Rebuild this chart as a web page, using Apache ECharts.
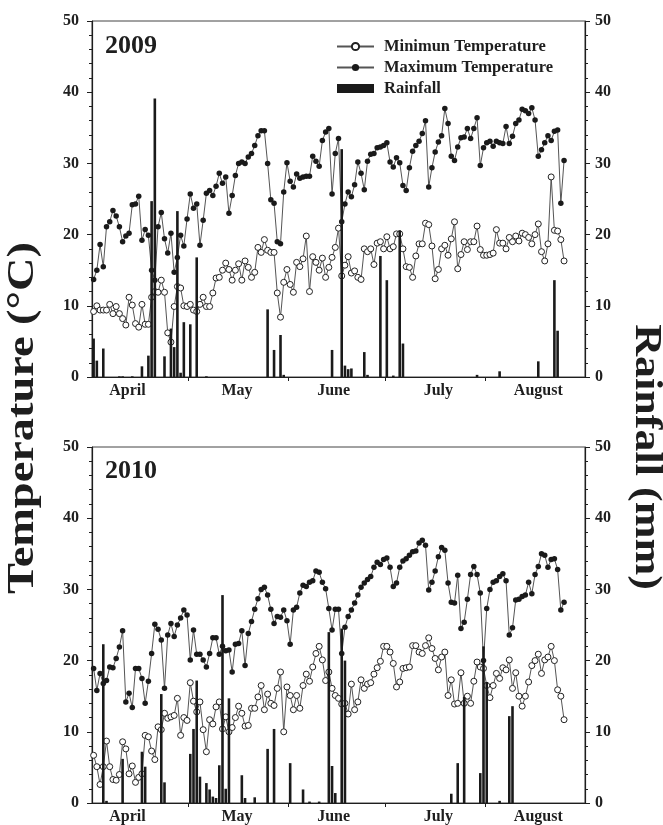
<!DOCTYPE html>
<html><head><meta charset="utf-8">
<script src="https://cdn.jsdelivr.net/npm/echarts@6/dist/echarts.min.js"></script>
<style>html,body{margin:0;padding:0;background:#fff}#c{width:663px;height:825px}</style>
</head><body><div id="c"></div>
<script>
// ---- axis labels ----
const monthNames = ['April', 'May', 'June', 'July', 'August'];
const monthLabelDays = [11, 45, 75, 107.5, 138.5];
const monthStartDays = [30, 61, 91, 122];

// ---- 2009 (day 0 = 1 April) ----
const min2009 = [9.2,10.0,9.4,9.4,9.4,10.2,8.9,9.9,8.9,8.2,
7.3,11.2,10.1,7.5,7.0,10.2,7.4,7.4,11.2,12.0,
11.9,13.6,11.9,6.2,4.9,9.9,12.7,12.5,10.0,9.9,
10.2,9.4,9.2,10.2,11.2,9.9,9.9,11.8,13.9,14.0,
15.0,16.0,15.1,13.6,15.0,15.9,13.6,16.3,15.4,14.0,
14.7,18.2,17.5,19.3,17.8,17.5,17.5,
11.8,8.4,13.3,15.1,13.0,11.9,16.1,15.5,16.6,19.8,
12.0,16.9,16.1,15.0,16.7,14.0,15.4,16.8,18.2,20.9,
14.2,15.7,16.9,14.6,14.9,14.0,13.7,18.0,17.6,18.0,
15.8,18.8,19.0,18.0,19.7,18.0,
18.3,20.1,20.1,18.0,15.5,15.4,14.0,17.0,18.7,18.7,
21.6,21.4,18.4,13.8,15.1,18.0,18.5,17.1,19.4,21.8,
15.2,17.2,19.0,17.9,19.0,19.0,
21.2,17.9,17.1,17.1,17.2,17.4,20.7,18.8,18.8,18.0,
19.6,19.0,19.8,19.1,20.2,20.0,19.6,18.7,20.0,
21.5,17.6,16.3,18.7,28.1,20.6,20.5,19.3,16.3];

const max2009 = [13.7,15.0,18.6,15.5,21.1,21.8,23.4,22.6,21.1,19.0,
19.8,20.2,24.2,24.3,25.4,19.2,20.7,19.9,15.0,13.6,
21.1,23.1,19.4,17.4,20.2,14.7,16.8,19.9,18.4,22.2,
25.7,23.7,24.3,18.5,22.0,25.8,26.2,25.5,26.8,28.6,
27.2,28.1,23.0,25.5,28.3,30.0,30.2,30.0,30.9,31.4,
32.5,33.9,34.6,34.6,30.0,24.9,24.4,19.0,18.7,26.0,
30.1,27.5,26.7,28.5,27.9,28.1,28.2,28.2,31.0,30.3,
29.6,33.2,34.4,34.9,25.7,31.4,33.5,21.8,24.3,26.0,
25.3,27.0,30.2,28.6,26.3,30.3,31.3,31.4,32.2,32.3,
32.5,32.9,30.2,29.5,30.8,30.1,26.9,26.2,29.4,
31.7,32.5,33.1,34.2,36.0,26.7,29.4,31.6,33.0,33.9,
37.7,35.6,31.0,30.4,32.3,33.6,33.7,34.9,33.5,34.9,
36.4,29.7,32.2,32.9,33.1,32.4,33.1,32.9,32.8,
35.2,32.8,33.8,35.6,36.1,37.6,37.4,37.0,37.8,
36.1,31.0,31.9,32.9,33.9,33.2,34.5,34.7,24.4,30.4];

const rainDays2009 = [0,1,3,8,9,12,15,17,18,19,22,24,25,26,27,28,30,32,35,54,56,58,59,74,77,78,79,80,84,85,89,91,93,95,96,119,126,138,143,144];
const rain2009 = [5.4,2.3,4.0,0.1,0.1,0.1,1.5,3.0,24.7,39.1,2.9,6.8,4.2,23.3,0.6,7.7,7.4,16.8,0.1,9.5,3.8,5.9,0.3,3.8,32.0,1.6,1.1,1.2,3.5,0.3,17.0,13.6,0.2,20.6,4.7,0.3,0.8,2.2,13.6,6.5];

// ---- 2010 ----
const min2010 = [6.7,5.1,2.6,5.1,8.7,5.1,3.3,3.2,4.0,8.6,
7.6,4.1,5.2,2.9,3.6,4.1,9.5,9.3,7.3,6.1,
10.7,10.3,12.6,11.9,12.1,12.3,14.7,9.5,12.0,
11.6,16.9,14.3,12.8,14.2,10.3,7.2,11.7,11.1,13.5,
14.2,10.4,12.1,10.0,10.6,12.0,13.6,12.6,10.8,
10.9,13.3,13.3,14.9,16.5,13.1,15.3,14.0,13.7,16.1,
18.4,10.0,16.3,15.1,13.1,15.1,13.3,16.5,18.1,
17.1,19.1,21.0,22.0,20.1,17.2,18.4,16.1,15.1,14.7,
13.9,14.0,12.5,16.7,13.1,14.2,17.3,16.1,16.7,16.9,
18.1,19.0,19.9,22.0,22.0,21.2,19.6,16.3,17.0,
18.9,19.0,19.1,22.1,22.1,21.2,21.0,22.1,23.2,21.7,
20.3,18.7,20.5,21.2,15.1,17.3,13.9,14.0,18.3,
14.0,15.0,14.0,17.1,19.8,19.1,18.9,16.5,14.8,16.5,
18.2,17.5,19.0,18.7,20.1,16.1,18.3,15.0,13.6,15.0,
17.0,19.3,20.0,20.9,18.2,20.1,20.5,22.0,20.0,
15.9,15.0,11.7];

const max2010 = [18.9,15.8,18.2,16.8,17.2,19.1,19.0,20.3,21.9,24.2,
14.2,15.4,13.4,18.9,18.9,17.5,14.0,17.1,21.0,25.1,
24.4,22.9,16.1,23.6,25.2,23.4,25.0,26.0,27.1,
26.4,20.1,24.3,20.9,20.9,20.1,19.1,21.0,23.2,23.2,
20.9,22.0,21.4,21.5,18.4,22.3,22.4,24.2,19.3,23.8,
25.5,27.2,28.7,30.0,30.3,29.2,27.2,25.2,26.2,26.1,
27.1,25.6,22.3,27.1,27.5,29.5,30.6,30.4,31.0,
31.2,32.6,32.4,31.0,30.1,27.3,24.3,27.2,27.2,21.0,
24.7,26.2,27.1,28.1,29.2,30.3,30.9,31.4,31.8,33.1,
33.8,33.5,34.2,34.4,33.1,30.4,30.9,33.1,34.0,
34.3,34.8,35.3,35.4,36.5,36.9,36.2,29.9,31.0,32.6,
34.6,35.9,35.5,30.9,28.2,28.1,32.0,24.5,25.4,
28.6,32.1,33.2,32.1,29.5,20.0,27.3,30.0,31.0,31.2,
31.8,32.2,31.2,23.6,24.6,28.5,28.6,29.0,29.2,31.0,
29.4,32.1,33.2,35.0,34.8,33.1,34.2,34.3,32.8,27.1,
28.2];

const rainDays2010 = [3,4,9,15,16,21,22,30,31,32,33,35,36,37,38,39,40,41,42,46,47,50,54,56,61,65,67,70,73,74,75,77,78,111,113,115,120,121,122,126,129,130];
const rain2010 = [22.3,0.3,6.2,7.2,5.1,15.3,2.9,6.9,10.4,17.2,3.7,2.8,1.9,0.9,0.7,5.3,29.2,2.0,14.7,3.9,0.7,0.8,7.6,10.4,5.6,1.9,0.2,0.2,24.0,5.2,1.4,24.5,20.0,1.3,5.6,14.9,4.2,22.0,17.0,0.3,12.2,13.6];

// ---- build ----
const FF = '"Liberation Serif", "Times New Roman", serif';
const INK = '#1e1e1e';
const daily = arr => arr.map((v, i) => [i + 0.5, v]);
const sparse = (days, vals) => days.map((d, i) => [d + 0.5, vals[i]]);

function xAx(gi) {
  return {
    type: 'value', gridIndex: gi, min: 0, max: 153,
    axisLine: { show: true, lineStyle: { color: INK, width: 1.2 } },
    axisTick: { show: true, customValues: monthStartDays, length: 4, lineStyle: { color: INK } },
    axisLabel: {
      show: true, customValues: monthLabelDays,
      formatter: v => monthNames[monthLabelDays.indexOf(v)] || '',
      fontFamily: FF, fontWeight: 'bold', fontSize: 16, color: INK, margin: 6
    },
    splitLine: { show: false }
  };
}
function yAx(gi, pos) {
  return {
    type: 'value', gridIndex: gi, position: pos, min: 0, max: 50, interval: 10,
    axisLine: { show: true, lineStyle: { color: INK, width: 1.2 } },
    axisTick: { show: true, length: 5, lineStyle: { color: INK } },
    minorTick: { show: true, splitNumber: 5, length: 3, lineStyle: { color: INK } },
    axisLabel: { fontFamily: FF, fontWeight: 'bold', fontSize: 16, color: INK, margin: pos === 'left' ? 13 : 10 },
    splitLine: { show: false }
  };
}
function panel(xi, yl, yr, mins, maxs, rd, rv) {
  return [
    { name: 'Minimun Temperature', type: 'line', xAxisIndex: xi, yAxisIndex: yl, data: daily(mins),
      symbol: 'circle', symbolSize: 6, z: 3,
      itemStyle: { color: '#fff', borderColor: '#222', borderWidth: 1 },
      lineStyle: { color: '#555', width: 1 } },
    { name: 'Maximum Temperature', type: 'line', xAxisIndex: xi, yAxisIndex: yl, data: daily(maxs),
      symbol: 'circle', symbolSize: 5.5, z: 3,
      itemStyle: { color: '#1a1a1a' },
      lineStyle: { color: '#555', width: 1 } },
    { name: 'Rainfall', type: 'bar', xAxisIndex: xi, yAxisIndex: yr, data: sparse(rd, rv),
      barWidth: 2.6, z: 4, itemStyle: { color: '#1a1a1a' } }
  ];
}

const chart = echarts.init(document.getElementById('c'), null, { renderer: 'canvas' });
chart.setOption({
  animation: false,
  backgroundColor: '#fff',
  grid: [
    { left: 92, top: 21, width: 493, height: 356, show: true, borderColor: '#444', borderWidth: 1 },
    { left: 92, top: 447, width: 493, height: 356, show: true, borderColor: '#444', borderWidth: 1 }
  ],
  xAxis: [xAx(0), xAx(1)],
  yAxis: [yAx(0, 'left'), yAx(0, 'right'), yAx(1, 'left'), yAx(1, 'right')],
  legend: {
    data: [{ name: 'Minimun Temperature' }, { name: 'Maximum Temperature' }, { name: 'Rainfall', icon: 'rect' }],
    orient: 'vertical', left: 331, top: 33, itemWidth: 37, itemHeight: 9, itemGap: 4,
    selectedMode: false,
    textStyle: { fontFamily: FF, fontWeight: 'bold', fontSize: 16.5, color: INK, padding: [0, 0, 0, 5] }
  },
  graphic: [
    { type: 'text', left: 105, top: 33, style: { text: '2009', font: 'bold 26px ' + FF, fill: INK } },
    { type: 'text', left: 105, top: 458, style: { text: '2010', font: 'bold 26px ' + FF, fill: INK } },
    { type: 'text', x: 23, y: 418, rotation: Math.PI / 2, scaleX: 1.22,
      style: { text: 'Temperature (°C)', font: 'bold 38px ' + FF, fill: INK, align: 'center', verticalAlign: 'middle' } },
    { type: 'text', x: 646, y: 457, rotation: -Math.PI / 2, scaleX: 1.16,
      style: { text: 'Rainfall (mm)', font: 'bold 38px ' + FF, fill: INK, align: 'center', verticalAlign: 'middle' } }
  ],
  series: [
    ...panel(0, 0, 1, min2009, max2009, rainDays2009, rain2009),
    ...panel(1, 2, 3, min2010, max2010, rainDays2010, rain2010)
  ]
});
</script></body></html>
